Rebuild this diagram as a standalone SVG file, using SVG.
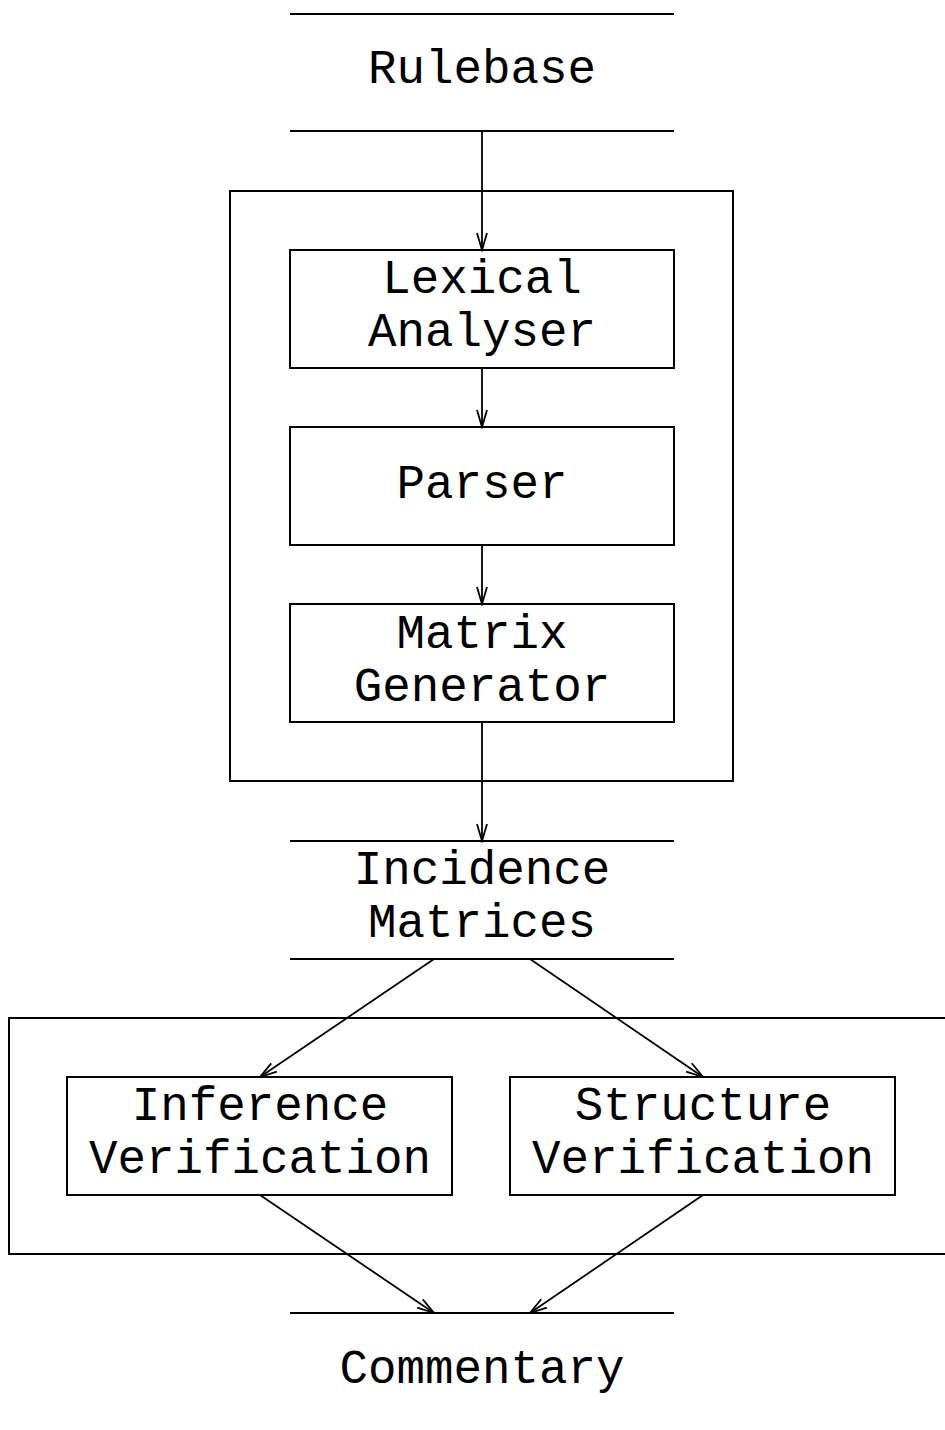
<svg xmlns="http://www.w3.org/2000/svg" width="945" height="1430" viewBox="0 0 945 1430">
  <style>
    .ln { stroke: #000; stroke-width: 2; fill: none; }
    .box { stroke: #000; stroke-width: 2; fill: none; }
    .lbl { font-family: "Liberation Mono", "Courier New", monospace; font-size: 47.5px; fill: #000; text-anchor: middle; }
    .arr { stroke: #000; stroke-width: 1.8; fill: none; marker-end: url(#vhead); }
  </style>
  <defs>
    <!-- open V arrowhead, tip on the end point -->
    <marker id="vhead" markerUnits="userSpaceOnUse" markerWidth="20" markerHeight="14" viewBox="0 0 20 14" refX="18" refY="7" orient="auto">
      <path d="M1,2 L18,7 L1,12" stroke="#000" stroke-width="1.8" fill="none"/>
    </marker>
  </defs>

  <!-- enclosing frames -->
  <g id="frames">
    <rect class="box" x="230" y="191" width="503" height="590"/>
    <rect class="box" x="9" y="1018" width="945" height="236"/>
  </g>

  <!-- data stores -->
  <g id="rulebase">
    <line class="ln" x1="290" y1="14" x2="674" y2="14"/>
    <line class="ln" x1="290" y1="131" x2="674" y2="131"/>
    <text class="lbl" x="482" y="83">Rulebase</text>
  </g>
  <g id="incidence">
    <line class="ln" x1="290" y1="841" x2="674" y2="841"/>
    <line class="ln" x1="290" y1="959" x2="674" y2="959"/>
    <text class="lbl" x="482" y="884">Incidence</text>
    <text class="lbl" x="482" y="937">Matrices</text>
  </g>
  <g id="commentary">
    <line class="ln" x1="290" y1="1313" x2="674" y2="1313"/>
    <text class="lbl" x="482" y="1383">Commentary</text>
  </g>

  <!-- processes -->
  <g id="lexical">
    <rect class="box" x="290" y="250" width="384" height="118"/>
    <text class="lbl" x="482" y="293">Lexical</text>
    <text class="lbl" x="482" y="346">Analyser</text>
  </g>
  <g id="parser">
    <rect class="box" x="290" y="427" width="384" height="118"/>
    <text class="lbl" x="482" y="498">Parser</text>
  </g>
  <g id="matrix">
    <rect class="box" x="290" y="604" width="384" height="118"/>
    <text class="lbl" x="482" y="648">Matrix</text>
    <text class="lbl" x="482" y="701">Generator</text>
  </g>
  <g id="inference">
    <rect class="box" x="67" y="1077" width="385" height="118"/>
    <text class="lbl" x="260" y="1120">Inference</text>
    <text class="lbl" x="260" y="1173">Verification</text>
  </g>
  <g id="structure">
    <rect class="box" x="510" y="1077" width="385" height="118"/>
    <text class="lbl" x="703" y="1120">Structure</text>
    <text class="lbl" x="703" y="1173">Verification</text>
  </g>

  <!-- connectors -->
  <g id="connectors">
    <line class="arr" x1="482" y1="131" x2="482" y2="250"/>
    <line class="arr" x1="482" y1="368" x2="482" y2="427"/>
    <line class="arr" x1="482" y1="545" x2="482" y2="604"/>
    <line class="arr" x1="482" y1="722" x2="482" y2="841"/>
    <line class="arr" x1="434" y1="959" x2="260" y2="1077"/>
    <line class="arr" x1="530" y1="959" x2="703" y2="1077"/>
    <line class="arr" x1="260" y1="1195" x2="434" y2="1313"/>
    <line class="arr" x1="703" y1="1195" x2="530" y2="1313"/>
  </g>
</svg>
